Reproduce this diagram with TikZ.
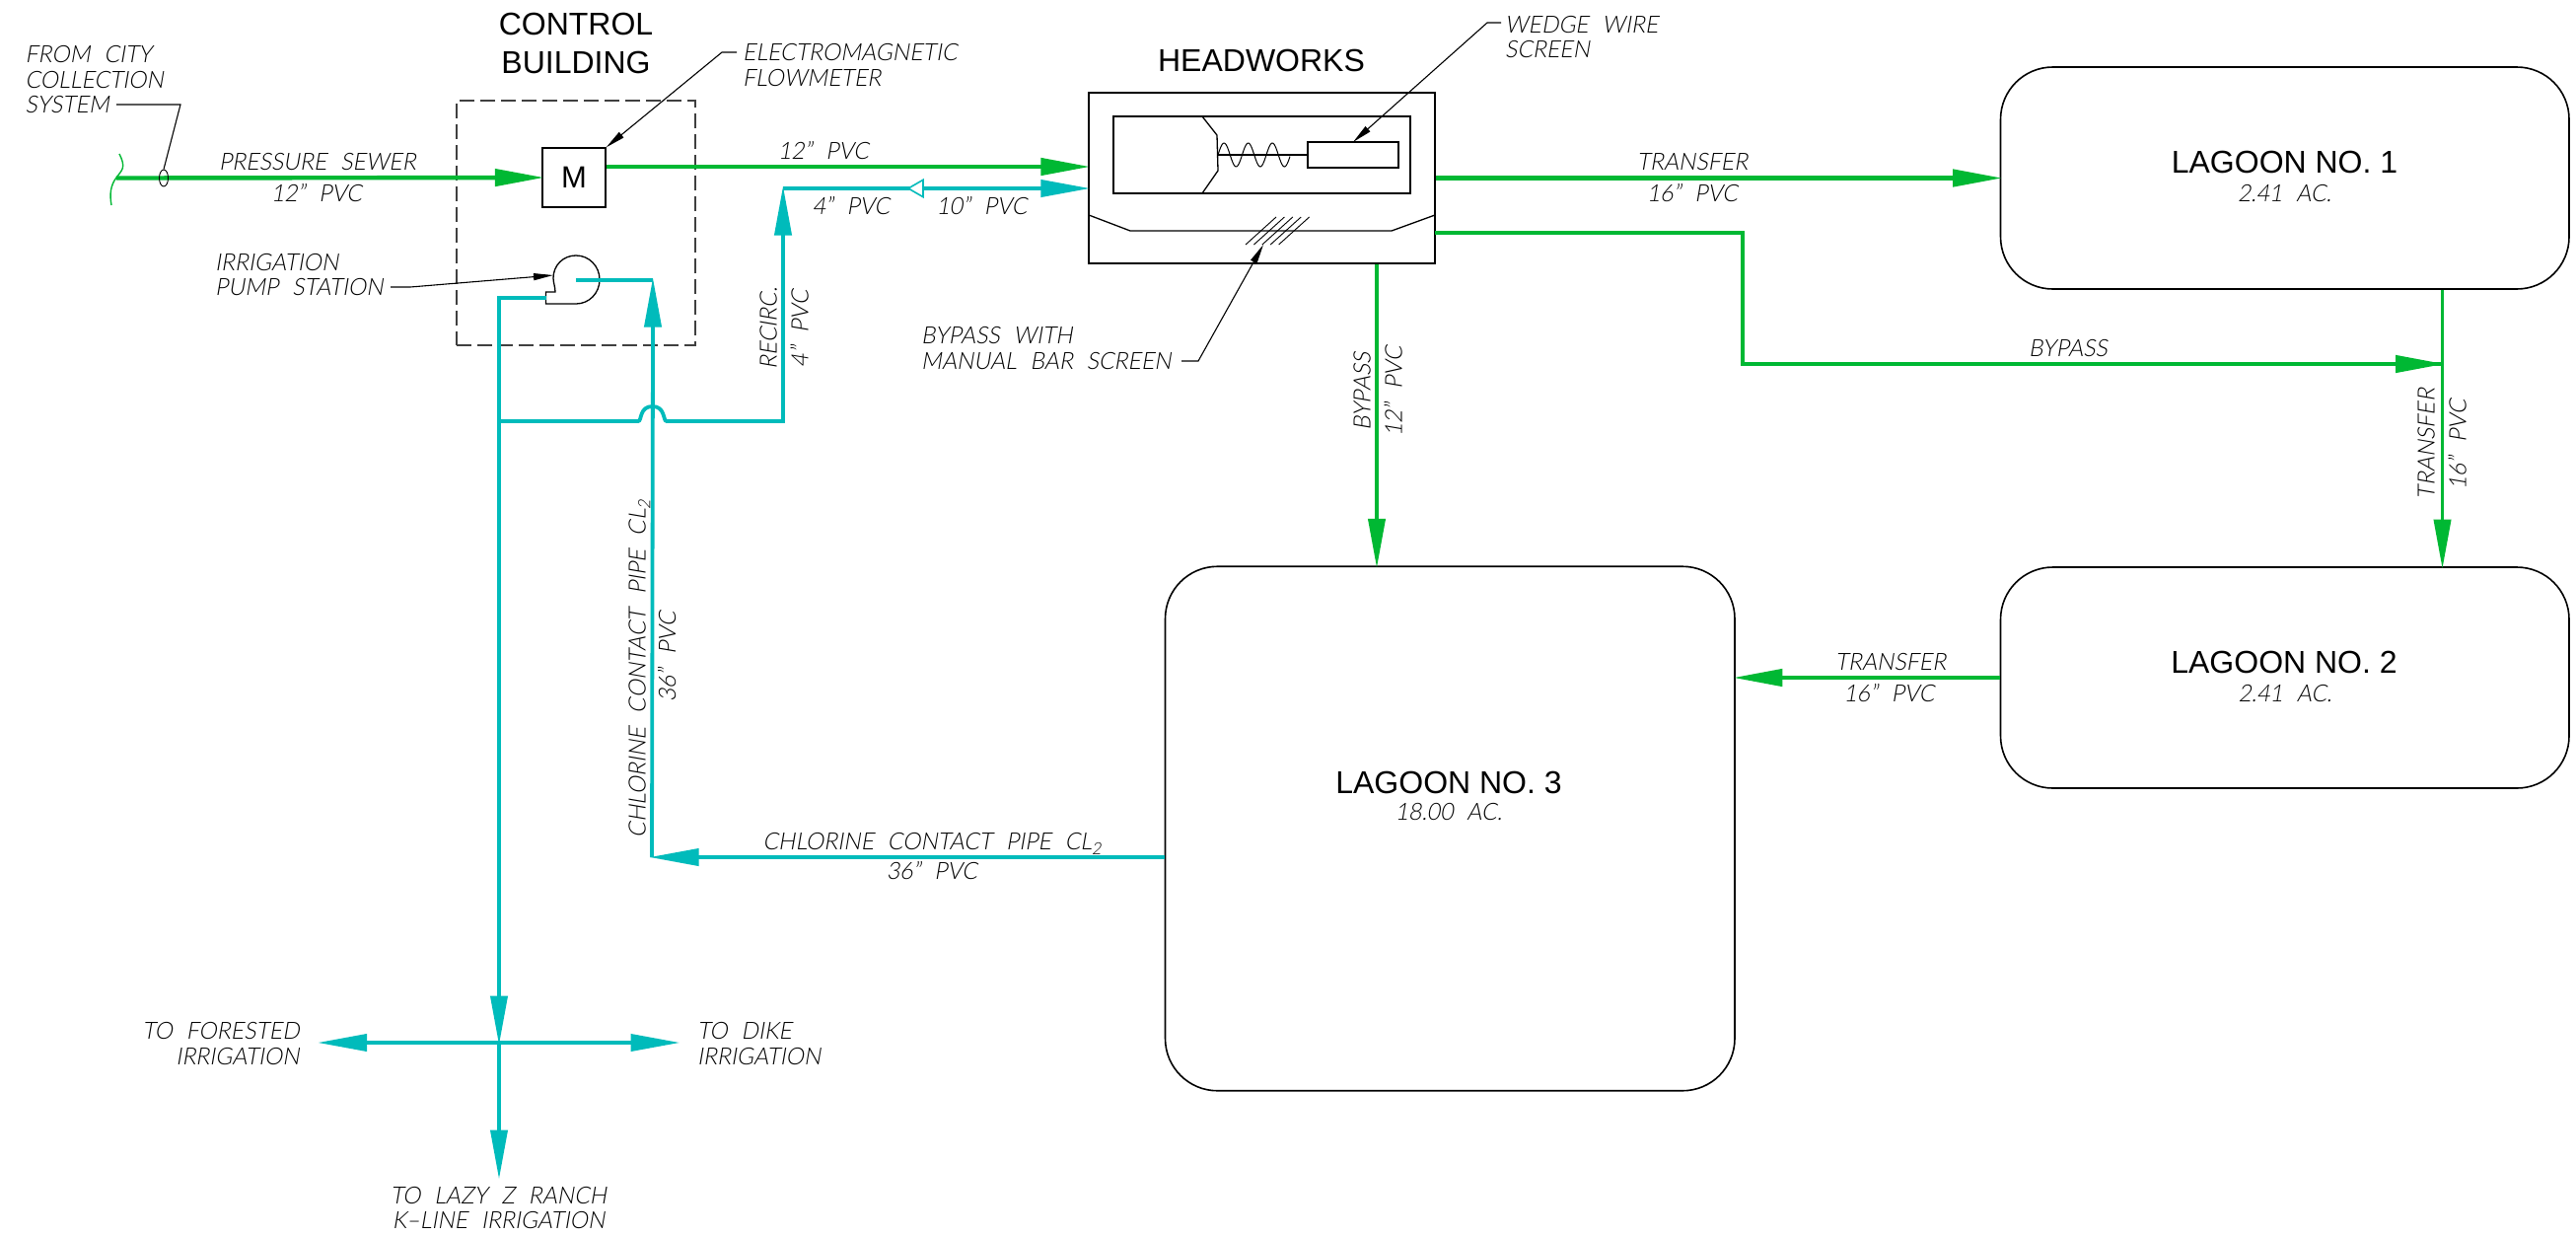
\documentclass[tikz,border=0pt]{standalone}
\usepackage{fontspec}
\usetikzlibrary{arrows.meta,shapes.geometric,calc}
\newfontfamily\cadi[FakeSlant=0.17,FakeStretch=0.96,WordSpace=2.2]{Lato Light}
\newfontfamily\cadu{Liberation Sans}
\definecolor{pgreen}{HTML}{00B833}
\definecolor{pcyan}{HTML}{00BBBB}
\newcommand{\subtwo}{\raisebox{-.4ex}{\fontsize{17}{17}\selectfont 2}}
\tikzset{
  x=1pt,y=-1pt,
  lab/.style={font=\cadi\fontsize{24}{25.5}\selectfont,inner sep=0pt,text height=17pt,text depth=0pt},
  mlab/.style={font=\cadi\fontsize{24}{25.5}\selectfont,inner sep=0pt},
  head/.style={font=\cadu\fontsize{32}{39}\selectfont,inner sep=0pt,align=center},
  thin black/.style={draw=black,line width=1.3pt},
  lagoon/.style={draw=black,line width=1.6pt,rounded corners=53pt,inner sep=0pt},
  leader/.style={draw=black,line width=1.1pt},
  leadarrow/.style={leader,-{Triangle[length=20pt,width=7pt]}},
  gpipe/.style={draw=pgreen,line width=4.4pt},
  gtip/.style={gpipe,shorten >=-2.5pt,-{Triangle[length=50pt,width=17pt]}},
  cpipe/.style={draw=pcyan,line width=3.8pt},
  ctip/.style={cpipe,shorten >=-2.5pt,-{Triangle[length=50pt,width=17pt]}},
}
\begin{document}
\begin{tikzpicture}
\useasboundingbox[fill=white] (0,0) rectangle (2612,1251);

% equipment / lagoons
\node[draw=black!75,line width=1.3pt,dash pattern=on 15pt off 6pt,minimum width=242pt,minimum height=248pt,inner sep=0pt] (ctrl) at (584,226) {};
\node[thin black,minimum width=64pt,minimum height=60pt,inner sep=0pt,font=\cadu\fontsize{31}{31}\selectfont] (M) at (582,180) {M};
\node[draw=black,line width=2.2pt,minimum width=351pt,minimum height=173pt,inner sep=0pt] (headw) at (1279.5,180.5) {};
\node[lagoon,minimum width=576.5pt,minimum height=225pt] (lag1) at (2316.75,180.5) {};
\node[lagoon,minimum width=576.5pt,minimum height=224pt] (lag2) at (2316.75,687) {};
\node[lagoon,minimum width=577.5pt,minimum height=531.5pt] (lag3) at (1470.25,840) {};

% headworks interior
\draw[thin black,line width=1.6pt] (1129,118) rectangle (1430,196);
\draw[thin black] (1219,118) -- (1234,137) -- (1235,173) -- (1219,196);
\draw[thin black] (1326,144) rectangle (1418,170);
\draw[thin black] (1235,157) -- (1326,157);
\draw[line width=1pt,domain=0:73,samples=90,variable=\t] plot ({1235+\t},{157-12*sin(\t/24.5*360)});
\draw[thin black] (1104,218) -- (1146,234) -- (1411,234) -- (1455,218);
\foreach \i in {0,1,2,3,4}{
  \draw[line width=0.9pt] ({1263+8.4*\i},248) -- ({1294+8.4*\i},220);
}

% pump
\coordinate (pump) at (584,284);
\draw[thin black] (553.5,308) -- (584,308) .. controls (597.5,308) and (608,297) .. (608,283.5)
  .. controls (608,270) and (597.5,259) .. (584,259) .. controls (571,259) and (561,269) .. (561,282)
  .. controls (561,286) and (563,291) .. (563,296) -- (553.5,296) -- cycle;
\coordinate (pumpin) at (553.5,302);

% named junctions
\coordinate (inlet) at (118,180.5);
\coordinate (jnc) at (662,284);
\coordinate (ccp) at (661,869);
\coordinate (tee) at (506,427);
\coordinate (teeTop) at (506,302);
\coordinate (cross) at (506,1057);
\coordinate (recTop) at (794,191);
\coordinate (recBot) at (794,427);
\coordinate (byS) at (1455,236);
\coordinate (byA) at (1767,236);
\coordinate (byB) at (1767,369);
\coordinate (byT) at (2476.5,369);
\coordinate (lazy) at (506,1193);
\coordinate (forest) at (324.5,1057);
\coordinate (dike) at (687,1057);

% green pipes
\draw[draw=pgreen,line width=1.4pt] (121,156) .. controls (128,170) and (124,172) .. (118,180)
   .. controls (112,188) and (111,197) .. (113,208);
\draw[gtip] (inlet) -- (M.west);
\draw[gtip] (M.east |- 0,169) -- (headw.west |- 0,169);
\draw[gtip] (headw.east) -- (lag1.west);
\draw[gpipe] (byS) -- (byA) -- (byB) -- (byT);
\draw[gtip] (byA |- byT) ++(1,0) -- (byT);
\draw[gtip,line width=3.8pt] (lag1.south -| byT) -- (lag2.north -| byT);
\draw[gtip,line width=3.8pt] (headw.south -| 1396,0) -- (lag3.north -| 1396,0);
\draw[gtip] (lag2.west) -- (lag3.east |- lag2.west);

% cyan pipes
\draw[ctip] (lag3.west |- ccp) -- (ccp);
\draw[cpipe] (ccp) -- (jnc |- 0,340);
\draw[ctip] (jnc |- 0,340) -- (jnc);
\draw[cpipe] (jnc) -- (pump);
\draw[cpipe] (pumpin) -- (teeTop) -- (tee |- 0,1000);
\draw[ctip] (tee |- 0,1000) -- (cross);
\draw[ctip] (cross) -- (lazy);
\draw[ctip] (cross) -- (forest);
\draw[ctip] (cross) -- (dike);
\draw[cpipe] (tee) -- (647,427) .. controls (651,427) and (648,412) .. (661.5,412)
   .. controls (675,412) and (672,427) .. (676,427) -- (recBot) -- (794,300);
\draw[ctip] (794,300) -- (recTop);
\draw[ctip] (recTop) -- (headw.west |- recTop);
\node[draw=pcyan,line width=1.6pt,fill=white,regular polygon,regular polygon sides=3,shape border rotate=90,inner sep=0pt,minimum size=20pt] (check) at (931,191) {};

% clamp and leaders
\node[ellipse,draw=black,line width=0.9pt,minimum width=9pt,minimum height=17pt,inner sep=0pt] (clamp) at (166,180.5) {};
\coordinate (l1a) at (118,106); \coordinate (l1b) at (183,106);
\draw[leader] (l1a) -- (l1b) -- (clamp.north);
\coordinate (l2a) at (747,53); \coordinate (l2b) at (732,53);
\draw[leadarrow] (l2a) -- (l2b) -- (M.north east);
\coordinate (l3a) at (396,291); \coordinate (l3b) at (416,291); \coordinate (l3c) at (561,279);
\draw[leadarrow] (l3a) -- (l3b) -- (l3c);
\coordinate (l4a) at (1198,366); \coordinate (l4b) at (1215,366); \coordinate (l4c) at (1281,248);
\draw[leadarrow] (l4a) -- (l4b) -- (l4c);
\coordinate (l5a) at (1522,23); \coordinate (l5b) at (1508,23); \coordinate (l5c) at (1372,144);
\draw[leadarrow] (l5a) -- (l5b) -- (l5c);

% headings
\node[head] (tCtrl) at (584,44) {CONTROL\\BUILDING};
\node[head] (tHead) at (1279,61) {HEADWORKS};
\node[head] (tL1) at (2316.5,164) {LAGOON NO. 1};
\node[head] (tL2) at (2316,671) {LAGOON NO. 2};
\node[head] (tL3) at (1469,793) {LAGOON NO. 3};

% labels
\node[lab] (a1) at (2316.5,196) {2.41 AC.};
\node[lab] (a2) at (2317,703) {2.41 AC.};
\node[lab] (a3) at (1469,823) {18.00 AC.};
\node[mlab,align=left,anchor=west] (t1) at (25.5,81) {FROM CITY\\COLLECTION\\SYSTEM};
\node[lab] (t2) at (322,164) {PRESSURE SEWER};
\node[lab] (t3) at (321,196) {12” PVC};
\node[mlab,align=left,anchor=west] (t4) at (218,278.5) {IRRIGATION\\PUMP STATION};
\node[mlab,align=left,anchor=west] (t5) at (753,66) {ELECTROMAGNETIC\\FLOWMETER};
\node[lab] (t6) at (835,153) {12” PVC};
\node[lab] (t7) at (863,209) {4” PVC};
\node[lab] (t8) at (995.5,209) {10” PVC};
\node[lab,rotate=90] (t9) at (779,333) {RECIRC.};
\node[lab,rotate=90] (t10) at (811,333) {4” PVC};
\node[mlab,align=left,anchor=west] (t11) at (934,353) {BYPASS WITH\\MANUAL BAR SCREEN};
\node[lab,rotate=90] (t12) at (1381,397) {BYPASS};
\node[lab,rotate=90] (t13) at (1413,397) {12” PVC};
\node[mlab,align=left,anchor=west] (t14) at (1526,37.5) {WEDGE WIRE\\SCREEN};
\node[lab] (t15) at (1716,164) {TRANSFER};
\node[lab] (t16) at (1716,196) {16” PVC};
\node[lab] (t17) at (2097,353) {BYPASS};
\node[lab,rotate=90] (t18) at (2460,450) {TRANSFER};
\node[lab,rotate=90] (t19) at (2492,451) {16” PVC};
\node[lab] (t20) at (1917,671) {TRANSFER};
\node[lab] (t21) at (1915.5,703) {16” PVC};
\node[lab] (t22) at (945,853) {CHLORINE CONTACT PIPE CL\subtwo};
\node[lab] (t23) at (945,883) {36” PVC};
\node[lab,rotate=90] (t24) at (646,678) {CHLORINE CONTACT PIPE CL\subtwo};
\node[lab,rotate=90] (t25) at (676.5,666) {36” PVC};
\node[mlab,align=right,anchor=east] (t26) at (304,1058) {TO FORESTED\\IRRIGATION};
\node[mlab,align=left,anchor=west] (t27) at (707,1058) {TO DIKE\\IRRIGATION};
\node[mlab,align=center] (t28) at (505.6,1224.5) {TO LAZY Z RANCH\\K–LINE IRRIGATION};
\end{tikzpicture}
\end{document}
